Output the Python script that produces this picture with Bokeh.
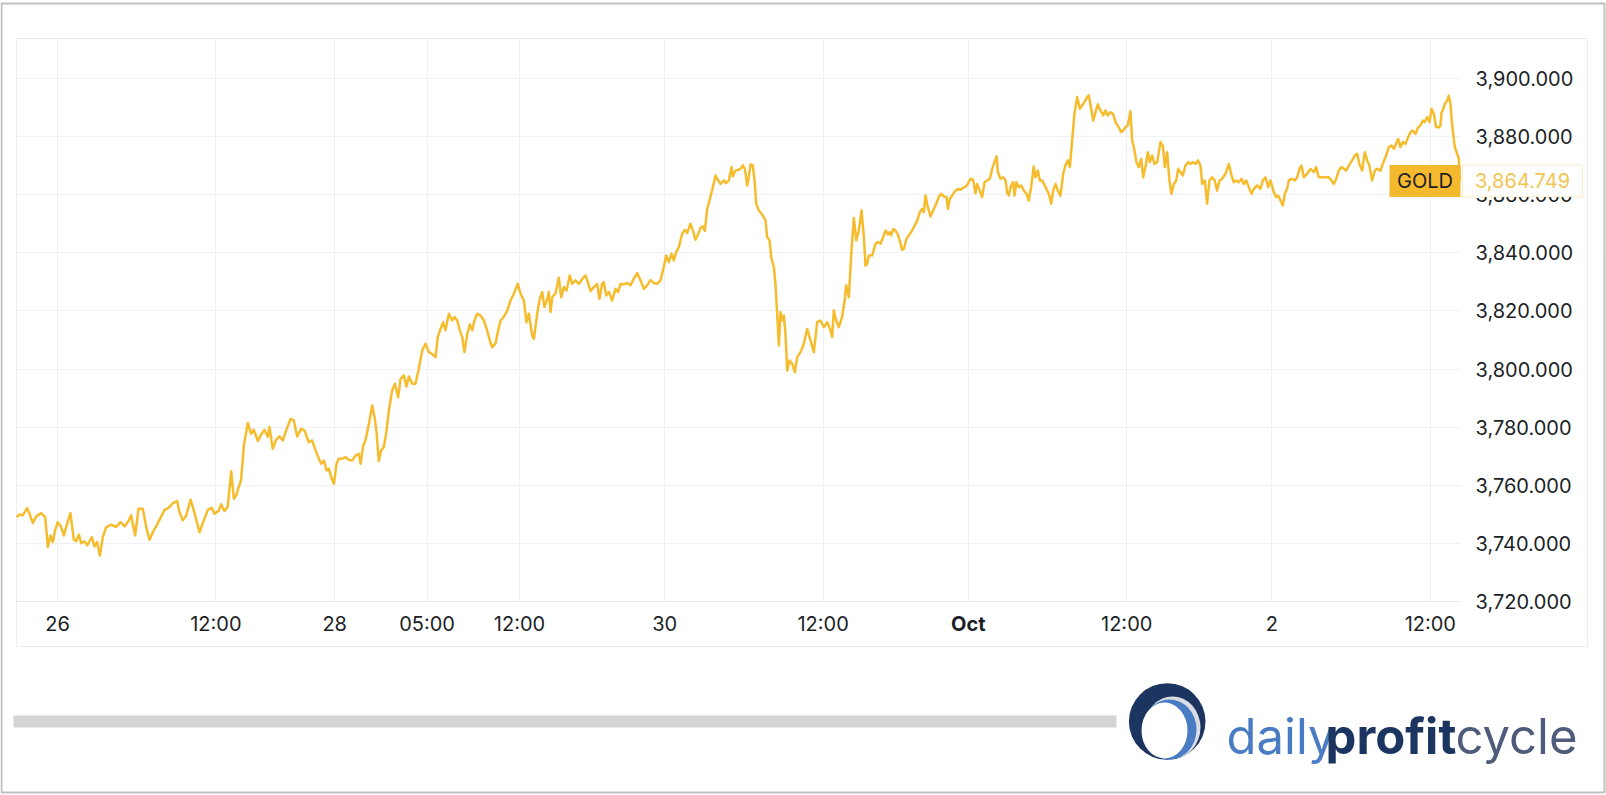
from bokeh.plotting import figure
from bokeh.models import (Range1d, FixedTicker, NumeralTickFormatter, Label, BoxAnnotation,
                          LinearAxis, Grid)
from bokeh.embed import file_html
from bokeh.resources import INLINE
from bokeh.core.properties import value

# ---------------- data (x = trading hours counted from 26 Sep 00:00, session gaps removed) ----------------
hours = [
    -3.10, -2.88, -2.63, -2.30, -2.12, -1.87, -1.62, -1.24, -0.93, -0.73, -0.53, -0.35, -0.18,
    0.02, 0.28, 0.48, 0.73, 0.98, 1.24, 1.41, 1.62, 1.79, 2.04, 2.25, 2.42, 2.60, 2.80, 3.00,
    3.21, 3.43, 3.69, 4.07, 4.44, 4.77, 5.08, 5.33, 5.58, 5.88, 6.14, 6.46, 6.72, 6.97, 7.22,
    7.55, 7.85, 8.11, 8.41, 8.74, 9.07, 9.24, 9.49, 9.75, 10.08, 10.38, 10.76, 11.01, 11.39,
    11.69, 11.89, 12.20, 12.40, 12.65, 12.90, 13.16, 13.36, 13.54, 13.91, 14.12, 14.42, 14.67,
    14.87, 15.18, 15.43, 15.68, 15.93, 16.06, 16.31, 16.56, 16.82, 17.07, 17.32, 17.65, 17.90,
    18.16, 18.46, 18.71,
    19.04, 19.29, 19.55, 19.80, 19.98, 20.18, 20.38, 20.56, 20.73, 20.94, 21.14, 21.31, 21.57,
    21.82, 22.07, 22.32, 22.58, 22.83, 22.96, 23.16, 23.33, 23.59, 23.84, 24.02, 24.17, 24.34,
    24.52, 24.72, 24.93, 25.10, 25.35, 25.56, 25.81, 25.99, 26.24, 26.44, 26.62, 26.87, 27.12,
    27.37, 27.63, 27.88, 28.13, 28.38, 28.64, 28.81, 29.02, 29.22, 29.39, 29.65, 29.90, 30.08,
    30.28, 30.48, 30.66, 30.83, 31.04, 31.24, 31.42, 31.59, 31.79, 32.05, 32.30, 32.55, 32.75,
    32.93, 33.18, 33.36, 33.56, 33.81, 34.07, 34.32, 34.57, 34.87, 35.08, 35.33, 35.53, 35.71,
    35.96, 36.09, 36.34, 36.54, 36.72, 36.89, 37.10, 37.22, 37.35, 37.48, 37.73, 37.98, 38.16,
    38.36, 38.56, 38.81, 38.99, 39.24, 39.50, 39.75, 40.00, 40.18,
    40.38, 40.63, 40.88, 41.06, 41.26, 41.39, 41.57, 41.77, 42.02, 42.27, 42.47, 42.65, 42.90,
    43.16, 43.41, 43.66, 43.91, 44.17, 44.42, 44.67, 44.92, 45.18, 45.43, 45.68, 45.93, 46.11,
    46.31, 46.52, 46.69, 46.87, 47.07, 47.32, 47.53, 47.70, 47.95, 48.13, 48.33, 48.54, 48.71,
    48.89, 49.04, 49.22, 49.39, 49.60, 49.85, 50.05, 50.23, 50.48, 50.66, 50.86, 51.06, 51.16,
    51.36, 51.57, 51.74, 51.92, 52.07, 52.25, 52.37, 52.50, 52.68, 52.83, 52.93, 53.13, 53.38,
    53.64, 53.76, 53.94, 54.09, 54.27, 54.39, 54.52, 54.65, 54.77, 54.90, 55.03, 55.15, 55.28,
    55.45, 55.66, 55.86, 56.04, 56.29, 56.54, 56.79, 57.05, 57.30, 57.55, 57.80, 58.06, 58.31,
    58.56, 58.69, 58.81, 58.99, 59.19, 59.44, 59.65, 59.75, 59.95, 60.15, 60.33, 60.51, 60.71,
    60.91, 61.09, 61.21, 61.34, 61.46, 61.72,
    61.97, 62.15, 62.35, 62.55, 62.73, 62.90, 63.05, 63.16, 63.31, 63.48, 63.66, 63.81, 63.99,
    64.12, 64.32, 64.49, 64.67, 64.87, 65.13, 65.33, 65.50, 65.63, 65.76, 65.93, 66.14, 66.34,
    66.51, 66.77, 66.94, 67.15, 67.35, 67.45, 67.60, 67.78, 68.03, 68.21, 68.41, 68.61, 68.79,
    68.96, 69.17, 69.37, 69.54, 69.67, 69.87, 70.05, 70.23, 70.43, 70.63, 70.81, 70.98, 71.14,
    71.24, 71.44, 71.64, 71.82, 71.94, 72.07, 72.20, 72.40, 72.50, 72.65, 72.83, 73.00, 73.21,
    73.41, 73.58, 73.76, 73.96, 74.09, 74.27, 74.42, 74.60, 74.85, 75.10, 75.28, 75.43, 75.61,
    75.78, 75.98, 76.19, 76.36, 76.54, 76.69, 76.87, 77.04, 77.25, 77.45, 77.63, 77.80, 78.00,
    78.13, 78.31, 78.46, 78.64, 78.81, 79.01, 79.22, 79.39, 79.57, 79.77, 79.97, 80.15, 80.40,
    80.58, 80.73, 80.91, 81.08, 81.29, 81.41, 81.54, 81.74, 81.92, 82.10, 82.25, 82.42, 82.60,
    82.75, 82.93, 83.11, 83.31,
    83.56, 83.74, 83.89, 84.06, 84.24, 84.39, 84.57, 84.75, 84.90, 85.07, 85.25, 85.45, 85.65,
    85.83, 86.01, 86.21, 86.41, 86.59, 86.72, 86.92, 87.09, 87.27, 87.47, 87.67, 87.85, 88.03,
    88.23, 88.48, 88.74, 88.94, 89.11, 89.29, 89.49, 89.70, 89.87, 90.05, 90.25, 90.45, 90.63,
    90.88, 91.13, 91.31, 91.51, 91.72, 91.89, 92.14, 92.32, 92.47, 92.65, 92.83, 92.98, 93.15,
    93.28, 93.53, 93.74, 93.91, 94.09, 94.24, 94.42, 94.67, 94.92, 95.18, 95.35, 95.55, 95.81,
    96.06, 96.31, 96.51, 96.69, 96.87, 97.07, 97.27, 97.45, 97.62, 97.83, 98.08, 98.28, 98.46,
    98.63, 98.84, 99.04, 99.22, 99.39, 99.59, 99.80, 99.97, 100.23, 100.40, 100.60, 100.73,
    100.86, 101.06, 101.24, 101.41, 101.56, 101.74, 101.92, 102.12, 102.32, 102.50, 102.67,
    102.88, 103.08, 103.26, 103.43, 103.58, 103.76, 103.94, 104.09, 104.27, 104.44, 104.65,
    104.77, 104.85, 104.95, 105.10, 105.28, 105.40, 105.53, 105.60, 105.73, 105.86, 106.03,
    106.16, 106.25,
]

price = [
    3749.0, 3749.9, 3749.6, 3752.1, 3750.2, 3747.0, 3749.2, 3750.4, 3749.0, 3738.7, 3742.7, 3740.4, 3744.6,
    3747.3, 3745.6, 3742.7, 3746.7, 3750.4, 3741.2, 3740.7, 3743.0, 3740.0, 3740.7, 3739.3, 3740.7, 3742.1, 3738.9, 3740.4,
    3735.8, 3742.1, 3745.6, 3746.4, 3745.6, 3747.3, 3745.8, 3747.3, 3749.6, 3742.7, 3751.9, 3751.9, 3745.6, 3741.2, 3743.8,
    3746.5, 3749.2, 3751.5, 3752.2, 3753.8, 3754.5, 3750.7, 3747.9, 3749.6, 3755.0, 3750.4, 3743.8, 3747.0, 3751.5,
    3752.2, 3750.2, 3751.1, 3753.4, 3751.1, 3752.7, 3764.8, 3755.3, 3756.5, 3761.9, 3773.7, 3781.4, 3777.7,
    3779.1, 3775.2, 3777.5, 3779.1, 3776.6, 3780.0, 3772.5, 3775.6, 3776.8, 3775.4, 3778.8, 3782.8, 3782.3,
    3776.8, 3779.4, 3778.8,
    3774.8, 3775.4, 3772.0, 3769.1, 3767.4, 3768.5, 3765.1, 3765.7, 3762.8, 3760.5, 3767.4, 3769.1, 3769.1,
    3769.7, 3768.7, 3768.5, 3770.2, 3770.8, 3767.4, 3773.7, 3775.4, 3781.1, 3787.4, 3783.4, 3778.3, 3768.3,
    3772.0, 3773.1, 3778.8, 3785.7, 3792.6, 3794.9, 3790.3, 3796.6, 3797.8, 3794.0, 3797.4, 3794.9, 3794.9,
    3800.1, 3806.4, 3808.7, 3805.8, 3805.2, 3804.1, 3811.0, 3813.8, 3816.1, 3813.3, 3819.0, 3816.7, 3817.9,
    3816.7, 3813.3, 3811.0, 3805.8, 3812.1, 3815.3, 3813.3, 3816.7, 3819.0, 3818.4, 3816.7, 3813.3, 3809.8,
    3807.5, 3808.7, 3812.7, 3816.7, 3817.9, 3820.1, 3823.6, 3825.9, 3829.3, 3825.9, 3823.6, 3816.1, 3819.0,
    3811.5, 3810.4, 3819.0, 3824.2, 3826.5, 3821.3, 3824.2, 3826.5, 3819.6, 3824.7, 3826.1, 3831.4, 3824.7,
    3828.2, 3827.0, 3832.2, 3829.3, 3830.5, 3829.3, 3831.0, 3832.2, 3829.9,
    3826.8, 3828.2, 3829.3, 3824.2, 3829.3, 3829.9, 3825.3, 3826.5, 3823.6, 3827.6, 3826.5, 3829.3, 3829.1,
    3829.6, 3828.8, 3831.1, 3833.0, 3830.5, 3827.6, 3828.8, 3830.6, 3829.6, 3829.3, 3830.5, 3835.1, 3839.1,
    3836.8, 3839.7, 3837.4, 3840.2, 3841.9, 3846.5, 3847.9, 3846.8, 3850.0, 3847.7, 3844.5, 3846.5, 3848.6,
    3849.1, 3847.5, 3855.1, 3858.0, 3861.7, 3866.6, 3864.9, 3863.7, 3864.9, 3864.0, 3864.9, 3869.5, 3866.3,
    3868.3, 3868.6, 3868.9, 3870.1, 3868.9, 3863.2, 3866.0, 3870.4, 3870.1, 3863.7, 3856.9, 3854.6, 3853.2,
    3851.1, 3845.4, 3844.3, 3837.9, 3835.1, 3829.3, 3819.0, 3808.1, 3819.6, 3816.7, 3818.4, 3812.1, 3799.5,
    3802.9, 3801.8, 3798.9, 3804.1, 3805.8, 3808.7, 3813.8, 3809.8, 3805.8, 3816.1, 3816.7, 3814.4, 3816.1,
    3813.3, 3811.0, 3820.2, 3816.7, 3814.4, 3817.9, 3824.2, 3828.8, 3824.7, 3840.8, 3852.0, 3844.3, 3847.7,
    3854.6, 3845.4, 3835.6, 3836.2, 3839.1, 3839.1,
    3843.1, 3843.7, 3843.1, 3845.4, 3847.7, 3846.3, 3847.1, 3846.0, 3848.2, 3847.7, 3846.3, 3844.2, 3841.0,
    3841.4, 3844.8, 3846.0, 3847.1, 3848.8, 3851.1, 3854.0, 3855.1, 3854.0, 3859.7, 3855.7, 3852.5, 3854.6,
    3856.3, 3859.2, 3860.3, 3859.4, 3859.2, 3855.1, 3858.6, 3859.7, 3861.4, 3862.0, 3861.7, 3862.4, 3862.8,
    3863.7, 3865.5, 3865.1, 3860.5, 3863.7, 3861.4, 3859.2, 3864.3, 3864.9, 3865.5, 3868.9, 3871.2, 3873.2,
    3867.8, 3865.5, 3866.0, 3864.9, 3860.9, 3859.7, 3862.6, 3864.3, 3859.7, 3864.3, 3862.6, 3863.2, 3861.4,
    3860.3, 3858.0, 3862.6, 3869.7, 3866.0, 3868.3, 3864.9, 3864.9, 3862.6, 3860.3, 3856.9, 3861.4, 3863.7,
    3861.4, 3859.7, 3867.2, 3870.1, 3871.8, 3869.5, 3878.7, 3887.8, 3893.6, 3889.6, 3890.7, 3891.9, 3893.6,
    3894.2, 3889.6, 3885.5, 3888.4, 3891.1, 3889.0, 3887.3, 3889.0, 3887.3, 3888.4, 3887.8, 3885.0, 3883.2,
    3881.5, 3882.1, 3883.2, 3883.8, 3888.7, 3878.7, 3876.4, 3871.2, 3869.5, 3872.3, 3866.0, 3869.5, 3874.6,
    3871.2, 3873.5, 3870.6, 3871.2,
    3878.1, 3876.9, 3869.5, 3874.6, 3864.9, 3860.3, 3863.7, 3864.9, 3868.9, 3867.8, 3866.6, 3870.0, 3871.2,
    3870.6, 3871.2, 3870.6, 3871.8, 3870.0, 3863.7, 3864.9, 3856.9, 3864.9, 3866.0, 3864.9, 3861.4, 3864.9,
    3865.5, 3867.2, 3870.6, 3866.6, 3864.3, 3864.9, 3864.3, 3865.5, 3863.7, 3864.9, 3862.6, 3860.3, 3862.0,
    3863.2, 3862.0, 3864.9, 3866.0, 3862.6, 3864.9, 3860.9, 3859.2, 3859.7, 3858.0, 3856.3, 3860.3, 3862.0,
    3864.9, 3865.5, 3864.9, 3866.0, 3868.9, 3870.0, 3866.0, 3867.2, 3868.9, 3867.8, 3869.5, 3866.0, 3866.0,
    3866.0, 3866.0, 3864.9, 3863.7, 3865.5, 3868.3, 3869.5, 3868.9, 3868.3, 3870.0, 3871.8, 3873.5, 3874.1,
    3870.6, 3868.3, 3874.6, 3871.8, 3870.0, 3864.9, 3868.3, 3868.9, 3868.3, 3870.6, 3872.9, 3874.6,
    3876.4, 3876.9, 3875.8, 3877.5, 3879.2, 3876.4, 3878.1, 3877.5, 3879.8, 3881.5, 3882.1,
    3880.9, 3883.2, 3883.8, 3885.5, 3885.0, 3886.7, 3885.0, 3889.6, 3887.8, 3883.2, 3883.2,
    3883.8, 3888.4, 3889.0, 3891.3, 3892.4, 3894.1, 3891.3, 3886.7, 3881.0, 3876.4, 3874.1,
    3872.3, 3864.749,
]

x_tick_hours = [0, 12, 21, 28, 35, 46, 58, 69, 81, 92, 104]
x_tick_labels = ["26", "12:00", "28", "05:00", "12:00", "30", "12:00", "Oct", "12:00", "2", "12:00"]
bold_tick_labels = ["Oct"]
y_ticks = [3720, 3740, 3760, 3780, 3800, 3820, 3840, 3860, 3880, 3900]
symbol = "GOLD"
last_price = price[-1]
brand_parts = ["daily", "profit", "cycle"]

# ---------------- layout constants (page pixels) ----------------
W, H = 1606, 795
PX_PER_H = 13.2          # horizontal pixels per trading hour
T0_PX = 57.0             # page x of hour 0
PX_PER_USD = 58.1 / 20   # vertical pixels per dollar
P3900_PX = 78.0          # page y of 3900
PLOT_L, PLOT_R, PLOT_T, PLOT_B = 16, 1460, 38, 601


def t_at(px):
    return (px - T0_PX) / PX_PER_H


def v_at(py):
    return 3900.0 - (py - P3900_PX) / PX_PER_USD


x_lo, x_hi = t_at(PLOT_L), t_at(PLOT_R)
y_lo, y_hi = v_at(PLOT_B), v_at(PLOT_T)

GOLD = "#f5bc2e"
TEXT = "#1c1f26"
FONT = "Inter"
GRID = "#eff0f3"

p = figure(width=W, height=H, output_backend="svg", toolbar_location=None,
           x_range=Range1d(t_at(0), t_at(W)), y_range=Range1d(v_at(H), v_at(0)),
           x_axis_location=None, y_axis_location=None, min_border=0)
# drop the default grids; explicit bounded grids are added below
p.center = [r for r in p.center if not isinstance(r, Grid)]
p.outline_line_color = None
p.background_fill_color = "white"
p.border_fill_color = "white"
p.extra_x_ranges = {"px": Range1d(0, W)}
p.extra_y_ranges = {"px": Range1d(H, 0)}

# ---------------- frames ----------------
p.quad(left=[1], right=[1604], top=[3], bottom=[792], fill_color=None,
       line_color="#c0c0c0", line_width=2, x_range_name="px", y_range_name="px")
p.quad(left=[PLOT_L], right=[1587], top=[PLOT_T], bottom=[646], fill_color=None,
       line_color="#ececec", line_width=1, x_range_name="px", y_range_name="px")

# ---------------- grid ----------------
gx = Grid(dimension=0, ticker=FixedTicker(ticks=x_tick_hours), grid_line_color=GRID,
          bounds=(x_lo, x_hi))
gy = Grid(dimension=1, ticker=FixedTicker(ticks=y_ticks), grid_line_color=GRID,
          bounds=(y_lo, y_hi))
if "cross_bounds" in Grid.properties():
    gx.cross_bounds = (y_lo, y_hi)
    gy.cross_bounds = (x_lo, x_hi)
    p.add_layout(gx, "center")
    p.add_layout(gy, "center")
else:
    p.segment(x0=x_tick_hours, x1=x_tick_hours, y0=[y_lo] * len(x_tick_hours),
              y1=[y_hi] * len(x_tick_hours), line_color=GRID, line_width=1)
    p.segment(x0=[x_lo] * len(y_ticks), x1=[x_hi] * len(y_ticks), y0=y_ticks, y1=y_ticks,
              line_color=GRID, line_width=1)

# ---------------- price line ----------------
p.line(hours, price, line_color=GOLD, line_width=2.5, line_join="round")

# ---------------- axes ----------------
xa = LinearAxis(fixed_location=y_lo, bounds=(x_lo, x_hi), ticker=FixedTicker(ticks=x_tick_hours))
xa.major_label_overrides = {h: ("" if lab in bold_tick_labels else lab)
                            for h, lab in zip(x_tick_hours, x_tick_labels)}
xa.major_tick_line_color = None
xa.minor_tick_line_color = None
xa.major_tick_out = 0
xa.major_tick_in = 0
xa.axis_line_color = "#e6e7ea"
xa.major_label_text_font = FONT
xa.major_label_text_font_size = "20px"
xa.major_label_text_color = TEXT
xa.major_label_standoff = 10
p.add_layout(xa, "below")

ya = LinearAxis(fixed_location=x_hi, bounds=(y_lo, y_hi), ticker=FixedTicker(ticks=y_ticks),
                formatter=NumeralTickFormatter(format="0,0.000"))
ya.major_tick_line_color = None
ya.minor_tick_line_color = None
ya.major_tick_out = 0
ya.major_tick_in = 0
ya.axis_line_color = None
ya.major_label_text_font = FONT
ya.major_label_text_font_size = "20px"
ya.major_label_text_color = TEXT
ya.major_label_standoff = 15
p.add_layout(ya, "right")

for h, lab in zip(x_tick_hours, x_tick_labels):
    if lab in bold_tick_labels:
        p.add_layout(Label(x=h, y=623, y_range_name="px", text=lab,
                           text_align="center", text_baseline="middle",
                           text_font=FONT, text_font_size="20px", text_font_style="bold",
                           text_color=TEXT))

# ---------------- last price tags ----------------
half = 16 / PX_PER_USD
p.add_layout(BoxAnnotation(left=1389, right=PLOT_R, x_range_name="px",
                           top=last_price + half, bottom=last_price - half,
                           fill_color="#f5b92e", fill_alpha=1, line_color=None))
p.add_layout(BoxAnnotation(left=1462, right=1582, x_range_name="px",
                           top=last_price + half, bottom=last_price - half,
                           fill_color="white", fill_alpha=1, line_color="#f3c54f", line_width=1))
p.add_layout(Label(x=1424.5, y=last_price, x_range_name="px", text=symbol,
                   text_align="center", text_baseline="middle",
                   text_font=FONT, text_font_size="20px", text_color=TEXT))
p.add_layout(Label(x=1522, y=last_price, x_range_name="px", text=f"{last_price:,.3f}",
                   text_align="center", text_baseline="middle",
                   text_font=FONT, text_font_size="20px", text_color="#f1c453"))

# ---------------- footer: scrollbar + brand ----------------
p.quad(left=[13], right=[1116], top=[715], bottom=[727], fill_color="#d4d4d4",
       line_color=None, x_range_name="px", y_range_name="px")

p.circle(x=[1166.7], y=[721], radius=38.3, fill_color="#1b3560", line_color=None,
         x_range_name="px", y_range_name="px")
p.ellipse(x=[1172], y=[727], width=[56], height=[62], fill_color="#d9dce2", line_color=None,
          x_range_name="px", y_range_name="px")
p.ellipse(x=[1169], y=[729], width=[54], height=[60], fill_color="#4a7cc4", line_color=None,
          x_range_name="px", y_range_name="px")
p.ellipse(x=[1164], y=[730], width=[46], height=[56], fill_color="white", line_color=None,
          x_range_name="px", y_range_name="px")

brand_x = [1226, 1325, 1455]
brand_colors = ["#4a7cc4", "#1b3560", "#4f5b7a"]
brand_styles = ["normal", "bold", "normal"]
for bx, txt, col, sty in zip(brand_x, brand_parts, brand_colors, brand_styles):
    p.text(x=[bx], y=[736], text=[txt], text_font=value(FONT), text_font_size="49px",
           text_font_style=sty, text_color=col, text_baseline="alphabetic", text_align="left",
           x_range_name="px", y_range_name="px")

open("out.html", "w").write(file_html(p, INLINE))
